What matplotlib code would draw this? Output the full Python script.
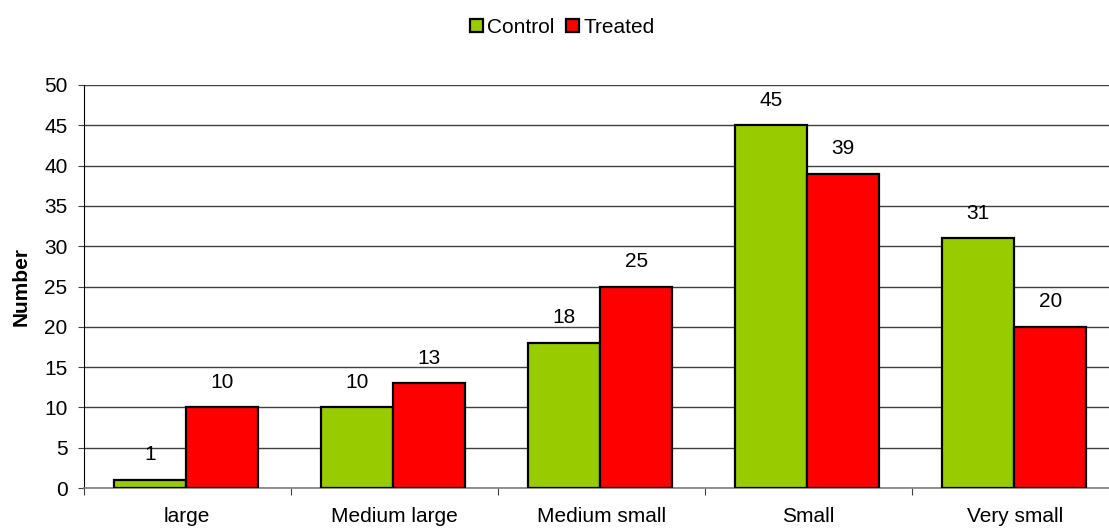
import matplotlib
matplotlib.use("Agg")
import matplotlib.pyplot as plt
import numpy as np

categories = ["large", "Medium large", "Medium small", "Small", "Very small"]
control = [1, 10, 18, 45, 31]
treated = [10, 13, 25, 39, 20]
series_names = ["Control", "Treated"]
colors = ["#99CC00", "#FF0000"]

plt.rcParams['font.family'] = ['Liberation Sans', 'DejaVu Sans']
FS = 15

fig = plt.figure(figsize=(11.09, 5.28), dpi=100)
ax = fig.add_axes([83.5 / 1109, 1 - 488 / 528, (1118.7 - 83.5) / 1109, (488 - 85) / 528])

x = np.arange(len(categories))
w = 0.348
b1 = ax.bar(x - w / 2 - 0.005, control, w, color=colors[0], edgecolor="black", linewidth=1.6,
            label=series_names[0], zorder=3)
b2 = ax.bar(x + w / 2 - 0.005, treated, w, color=colors[1], edgecolor="black", linewidth=1.6,
            label=series_names[1], zorder=3)

for bars, vals in ((b1, control), (b2, treated)):
    for r, v in zip(bars, vals):
        ax.annotate(str(v), (r.get_x() + r.get_width() / 2, v), xytext=(0, 18),
                    textcoords="offset points", ha="center", va="center", fontsize=FS)

ax.set_xlim(-0.5, 4.5)
ax.set_ylim(0, 50)
ax.set_yticks(np.arange(0, 51, 5))
ax.yaxis.grid(True, color="#404040", linewidth=1, zorder=0)
ax.set_axisbelow(True)
ax.set_xticks(np.arange(-0.5, 4.6, 1))
ax.set_xticklabels([])
ax.set_xticks(x, minor=True)
ax.set_xticklabels(categories, minor=True, fontsize=FS)
ax.tick_params(axis="x", which="minor", length=0, pad=14)
ax.tick_params(axis="x", which="major", length=5, color="#404040", direction="out")
ax.tick_params(axis="y", length=4.5, labelsize=FS, color="#404040", pad=7)
for s in ("top", "right"):
    ax.spines[s].set_visible(False)
ax.spines["left"].set_color("black")
ax.spines["bottom"].set_color("#808080")
ax.spines["bottom"].set_linewidth(1.2)
ax.set_ylabel("Number", fontweight="bold", fontsize=FS, labelpad=10)

fig.legend(handles=[b1, b2], loc="center", bbox_to_anchor=(562.5 / 1109, 1 - 27.5 / 528), ncol=2,
           frameon=False, fontsize=FS, handlelength=0.62, handleheight=0.62,
           handletextpad=0.2, columnspacing=0.55)

fig.savefig("out.png", dpi=100)
